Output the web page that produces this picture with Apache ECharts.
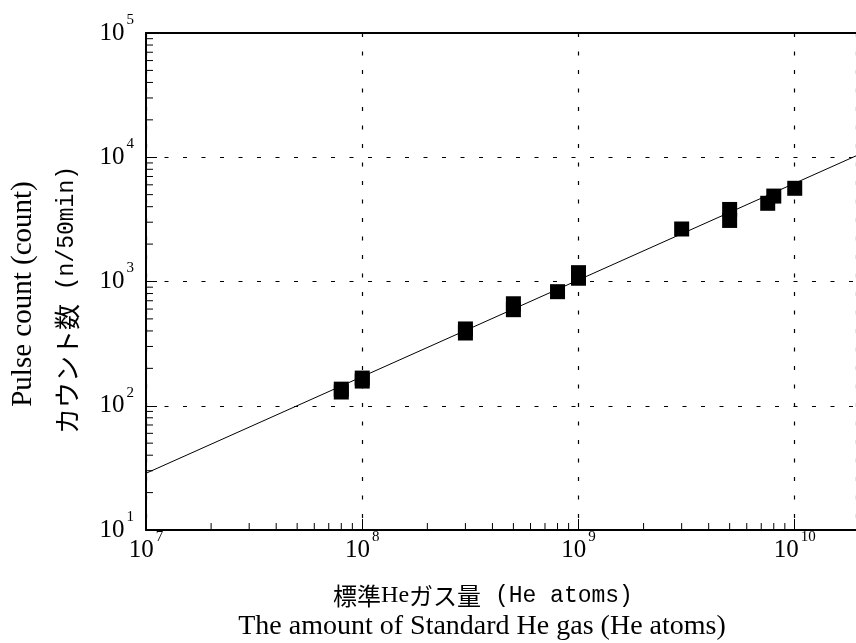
<!DOCTYPE html>
<html>
<head>
<meta charset="utf-8">
<script src="https://cdn.jsdelivr.net/npm/echarts@6/dist/echarts.min.js"></script>
<style>
  html, body { margin: 0; padding: 0; background: #fff; }
  #chart { width: 856px; height: 643px; }
</style>
</head>
<body>
<div id="chart"></div>
<script>
// measured points (He atoms vs counts / 50 min)
const heAtoms = [8e7, 8e7, 1e8, 1e8, 3e8, 3e8, 5e8, 5e8, 8e8, 1e9, 1e9, 3e9, 5e9, 5e9, 7.5e9, 8e9, 1e10];
const pulseCounts = [129, 136, 158, 167, 385, 415, 593, 662, 828, 1062, 1178, 2646, 3100, 3800, 4260, 4870, 5625];
// fitted line end points
const fitX = [1e7, 1.92e10];
const fitY = [28.6, 10260];

const xMin = 1e7;
const xMax = 1.92e10;
const yMin = 10;
const yMax = 1e5;

// minor tick values (2..9 x 10^k) for the log axes
const minorX = [];
for (let e = 7; e <= 10; e += 1) {
  for (let m = 2; m <= 9; m += 1) {
    const v = m * Math.pow(10, e);
    if (v < xMax) minorX.push(v);
  }
}
const minorY = [];
for (let e = 1; e <= 4; e += 1) {
  for (let m = 2; m <= 9; m += 1) minorY.push(m * Math.pow(10, e));
}

const serif = "'Liberation Serif', 'DejaVu Serif', serif";
const jp = "'Noto Sans CJK JP', sans-serif";
const mono = "'Liberation Mono', 'DejaVu Sans Mono', monospace";

const powLabel = (value) => {
  const e = Math.log10(value);
  if (Math.abs(e - Math.round(e)) > 1e-6) return "";
  return "{b|10}{s|" + Math.round(e) + "}";
};
const labelRich = {
  b: { fontFamily: serif, fontSize: 25, color: "#000" },
  s: { fontFamily: serif, fontSize: 15, color: "#000", padding: [0, 0, 26, 2] },
};
const dotted = { color: "#000", width: 1.2, type: [4, 14.5] };

const chart = echarts.init(document.getElementById("chart"));
chart.setOption({
  animation: false,
  grid: { left: 146, right: 0, top: 33, bottom: 113 },
  xAxis: [
    {
      type: "log",
      logBase: 10,
      min: xMin,
      max: xMax,
      axisLine: { lineStyle: { color: "#000", width: 2 } },
      axisTick: { inside: true, length: 11, lineStyle: { color: "#000", width: 1 } },
      axisLabel: { formatter: powLabel, rich: labelRich, fontFamily: serif, fontSize: 25, color: "#000", margin: 0, showMaxLabel: false },
      splitLine: { show: true, lineStyle: dotted },
    },
    {
      type: "log",
      logBase: 10,
      min: xMin,
      max: xMax,
      position: "top",
      axisLine: { lineStyle: { color: "#000", width: 2 } },
      axisTick: { show: false },
      axisLabel: { show: false },
      splitLine: { show: false },
    },
  ],
  yAxis: {
    type: "log",
    logBase: 10,
    min: yMin,
    max: yMax,
    axisLine: { lineStyle: { color: "#000", width: 2 } },
    axisTick: { inside: true, length: 11, lineStyle: { color: "#000", width: 1 } },
    axisLabel: { formatter: powLabel, rich: labelRich, fontFamily: serif, fontSize: 25, color: "#000", margin: 12 },
    splitLine: { show: true, lineStyle: dotted },
  },
  series: [
    {
      type: "line",
      data: fitX.map((x, i) => [x, fitY[i]]),
      showSymbol: false,
      lineStyle: { color: "#000", width: 1 },
      z: 3,
    },
    {
      type: "scatter",
      data: heAtoms.map((x, i) => [x, pulseCounts[i]]),
      symbol: "rect",
      symbolSize: 15,
      itemStyle: { color: "#000", opacity: 1 },
      z: 4,
    },
    {
      type: "custom",
      silent: true,
      data: minorX.map((v) => [v, yMin]),
      renderItem: (params, api) => {
        const p = api.coord([api.value(0), api.value(1)]);
        return {
          type: "line",
          shape: { x1: p[0], y1: p[1], x2: p[0], y2: p[1] - 7 },
          style: { stroke: "#000", lineWidth: 1 },
        };
      },
    },
    {
      type: "custom",
      silent: true,
      data: minorY.map((v) => [xMin, v]),
      renderItem: (params, api) => {
        const p = api.coord([api.value(0), api.value(1)]);
        return {
          type: "line",
          shape: { x1: p[0], y1: p[1], x2: p[0] + 7, y2: p[1] },
          style: { stroke: "#000", lineWidth: 1 },
        };
      },
    },
  ],
  graphic: [
    {
      type: "text",
      x: 483,
      y: 596,
      style: {
        text: "{j|標準}{h|He}{j|ガス量}{m| (He atoms)}",
        rich: {
          j: { fontFamily: jp, fontSize: 24, fill: "#000" },
          h: { fontFamily: serif, fontSize: 24, fill: "#000" },
          m: { fontFamily: mono, fontSize: 23, fill: "#000" },
        },
        textAlign: "center",
        textVerticalAlign: "middle",
      },
    },
    {
      type: "text",
      x: 482,
      y: 627,
      style: { text: "The amount of Standard He gas (He atoms)", font: "28px " + serif, fill: "#000", textAlign: "center", textVerticalAlign: "middle" },
    },
    {
      type: "text",
      x: 23,
      y: 294,
      rotation: Math.PI / 2,
      style: { text: "Pulse count (count)", font: "29px " + serif, fill: "#000", textAlign: "center", textVerticalAlign: "middle" },
    },
    {
      type: "text",
      x: 67,
      y: 300,
      rotation: Math.PI / 2,
      style: {
        text: "{j|カウント数}{m| (n/50min)}",
        rich: {
          j: { fontFamily: jp, fontSize: 26, fill: "#000" },
          m: { fontFamily: mono, fontSize: 23, fill: "#000" },
        },
        textAlign: "center",
        textVerticalAlign: "middle",
      },
    },
  ],
});
</script>
</body>
</html>
